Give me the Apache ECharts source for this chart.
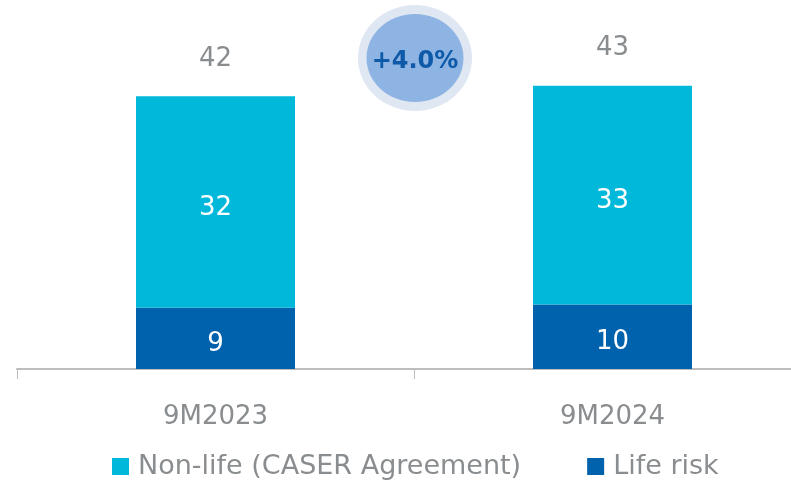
<!DOCTYPE html>
<html>
<head>
<meta charset="utf-8">
<script src="https://cdn.jsdelivr.net/npm/echarts@6/dist/echarts.min.js"></script>
<style>
  html, body { margin: 0; padding: 0; background: #fff; }
  .main { width: 791px; height: 481px; }
</style>
</head>
<body>
<div class="main"></div>
<script>
var categories = ['9M2023', '9M2024'];
var lifeRisk = [9.3, 9.8];
var nonLife = [32.1, 33.2];
var lifeLabels = ['9', '10'];
var nonLifeLabels = ['32', '33'];
var totalLabels = ['42', '43'];
var growthText = '+4.0%';

var font = 'DejaVu Sans';
var gray = '#8a8d8f';

var myChart = echarts.init(document.querySelector('.main'));
var option = {
  animation: false,
  textStyle: { fontFamily: font },
  grid: { left: 17, right: -20, top: 0, bottom: 112, outerBoundsMode: 'none', containLabel: false },
  legend: {
    top: 448,
    left: 107,
    itemWidth: 17,
    itemHeight: 17,
    itemGap: 66,
    icon: 'rect',
    textStyle: { color: gray, fontSize: 27, fontFamily: font, padding: [0, 0, 0, 4] },
    data: ['Non-life (CASER Agreement)', 'Life risk']
  },
  xAxis: {
    type: 'category',
    data: categories,
    axisLine: { lineStyle: { color: '#bdbdbd', width: 2 } },
    axisTick: { show: true, length: 10, lineStyle: { color: '#bdbdbd', width: 1 } },
    axisLabel: { color: gray, fontSize: 26, margin: 35, fontFamily: font }
  },
  yAxis: {
    type: 'value',
    min: 0,
    max: 56,
    show: false,
    splitLine: { show: false }
  },
  series: [{
    name: 'Life risk',
    type: 'bar',
    stack: 'total',
    barWidth: 159,
    itemStyle: { color: '#0061ad' },
    label: {
      show: true,
      position: 'inside',
      offset: [0, 6],
      color: '#fff',
      fontSize: 26,
      fontFamily: font,
      formatter: function (p) { return lifeLabels[p.dataIndex]; }
    },
    data: lifeRisk
  }, {
    name: 'Non-life (CASER Agreement)',
    type: 'bar',
    stack: 'total',
    barWidth: 159,
    itemStyle: { color: '#00b8d9' },
    label: {
      show: true,
      position: 'inside',
      offset: [0, 6],
      color: '#fff',
      fontSize: 26,
      fontFamily: font,
      formatter: function (p) { return nonLifeLabels[p.dataIndex]; }
    },
    data: nonLife
  }, {
    type: 'bar',
    stack: 'total',
    barWidth: 159,
    silent: true,
    itemStyle: { color: 'transparent' },
    label: {
      show: true,
      position: 'insideBottom',
      distance: 24,
      color: gray,
      fontSize: 26,
      fontFamily: font,
      formatter: function (p) { return totalLabels[p.dataIndex]; }
    },
    data: [0.001, 0.001]
  }],
  graphic: [{
    type: 'ellipse',
    shape: { cx: 415, cy: 58, rx: 57, ry: 53 },
    style: { fill: '#dfe7f3' },
    silent: true
  }, {
    type: 'ellipse',
    shape: { cx: 415, cy: 58, rx: 48.5, ry: 44 },
    style: { fill: '#8db4e3' },
    silent: true
  }, {
    type: 'text',
    x: 415,
    y: 62,
    style: {
      text: growthText,
      fill: '#0f5aa8',
      font: 'bold 24px "DejaVu Sans"',
      align: 'center',
      verticalAlign: 'middle'
    },
    silent: true
  }]
};
myChart.setOption(option);
</script>
</body>
</html>
